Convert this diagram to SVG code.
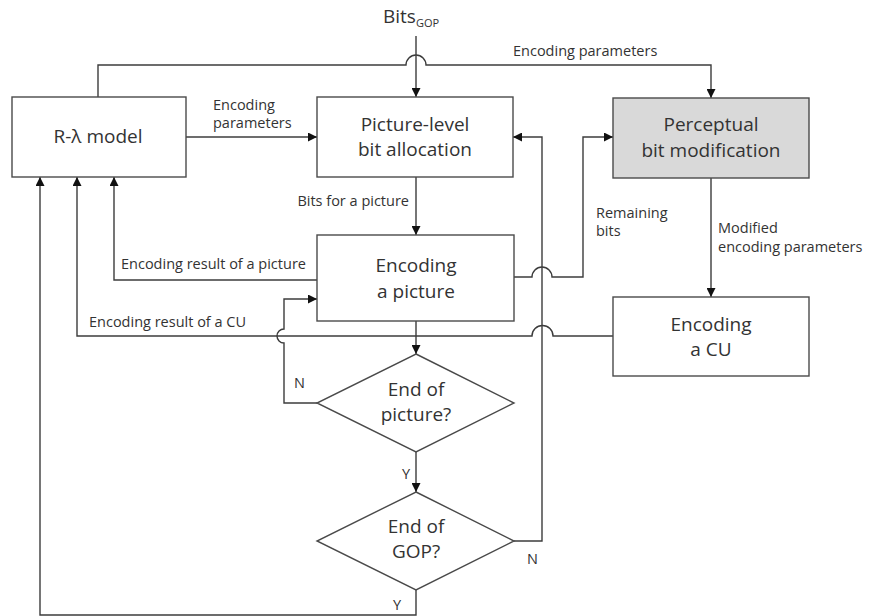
<svg xmlns="http://www.w3.org/2000/svg" width="872" height="616" viewBox="0 0 872 616">
<style>
.box{fill:#fff;stroke:#4a4a4a;stroke-width:1.4}
.grey{fill:#d9d9d9}
.ln{fill:none;stroke:#3c3c3c;stroke-width:1.4}
.big{font-family:"Open Sans","Liberation Sans",sans-serif;font-size:19px;fill:#333;text-anchor:middle}
.sm{font-family:"Open Sans","Liberation Sans",sans-serif;font-size:14.5px;fill:#333}
</style>
<defs>
<marker id="ah" viewBox="0 0 10 10" refX="10" refY="5" markerWidth="9" markerHeight="9" markerUnits="userSpaceOnUse" orient="auto">
<path d="M0,0 L10,5 L0,10 z" fill="#111"/>
</marker>
</defs>
<rect width="872" height="616" fill="#fff"/>

<g id="connectors">
<path class="ln" d="M416,36 V97" marker-end="url(#ah)"/>
<path class="ln" d="M98,97 V65 H406 A10,10 0 0 1 426,65 H711 V98" marker-end="url(#ah)"/>
<path class="ln" d="M186,137 H317" marker-end="url(#ah)"/>
<path class="ln" d="M416,177 V235" marker-end="url(#ah)"/>
<path class="ln" d="M711,178 V297" marker-end="url(#ah)"/>
<path class="ln" d="M514,277 H532 A10,10 0 0 1 552,277 H583 V137 H613" marker-end="url(#ah)"/>
<path class="ln" d="M317,280 H114 V177" marker-end="url(#ah)"/>
<path class="ln" d="M613,336 H553 A10,10 0 0 0 532,336 H77 V177" marker-end="url(#ah)"/>
<path class="ln" d="M416,321 V354" marker-end="url(#ah)"/>
<path class="ln" d="M317,403 H284 V343 A7,7 0 0 1 284,329 V299 H317" marker-end="url(#ah)"/>
<path class="ln" d="M416,452 V492" marker-end="url(#ah)"/>
<path class="ln" d="M514,541 H542 V137 H513" marker-end="url(#ah)"/>
<path class="ln" d="M416,590 V615 H40 V177" marker-end="url(#ah)"/>
</g>

<g id="rlambda">
<rect class="box" x="12" y="97" width="174" height="80"/>
<text class="big" x="98" y="143">R-λ model</text>
</g>
<g id="picture-level">
<rect class="box" x="317" y="97" width="196" height="80"/>
<text class="big" x="415" y="131">Picture-level</text>
<text class="big" x="415" y="156">bit allocation</text>
</g>
<g id="perceptual">
<rect class="box grey" x="613" y="98" width="196" height="80"/>
<text class="big" x="711" y="131">Perceptual</text>
<text class="big" x="711" y="157">bit modification</text>
</g>
<g id="enc-picture">
<rect class="box" x="317" y="235" width="197" height="86"/>
<text class="big" x="416" y="272">Encoding</text>
<text class="big" x="416" y="298">a picture</text>
</g>
<g id="enc-cu">
<rect class="box" x="613" y="297" width="196" height="79"/>
<text class="big" x="711" y="331">Encoding</text>
<text class="big" x="711" y="356">a CU</text>
</g>
<g id="end-picture">
<polygon class="box" points="416,354 514,403 416,452 317,403"/>
<text class="big" x="416" y="396">End of</text>
<text class="big" x="416" y="421">picture?</text>
</g>
<g id="end-gop">
<polygon class="box" points="416,492 514,541 416,590 317,541"/>
<text class="big" x="416" y="533">End of</text>
<text class="big" x="416" y="558">GOP?</text>
</g>

<g id="labels">
<text x="383" y="23" style="font-family:'Open Sans','Liberation Sans',sans-serif;font-size:19px;fill:#333">Bits<tspan font-size="11" dy="4">GOP</tspan></text>
<text class="sm" x="513" y="56">Encoding parameters</text>
<text class="sm" x="213" y="110">Encoding</text>
<text class="sm" x="213" y="128">parameters</text>
<text class="sm" x="409" y="206" text-anchor="end">Bits for a picture</text>
<text class="sm" x="121" y="269">Encoding result of a picture</text>
<text class="sm" x="89" y="327">Encoding result of a CU</text>
<text class="sm" x="596" y="218">Remaining</text>
<text class="sm" x="596" y="236">bits</text>
<text class="sm" x="718" y="233">Modified</text>
<text class="sm" x="718" y="252">encoding parameters</text>
<text class="sm" x="294" y="388" font-size="12">N</text>
<text class="sm" x="402" y="479" font-size="12">Y</text>
<text class="sm" x="527" y="564" font-size="12">N</text>
<text class="sm" x="393" y="610" font-size="12">Y</text>
</g>
</svg>
